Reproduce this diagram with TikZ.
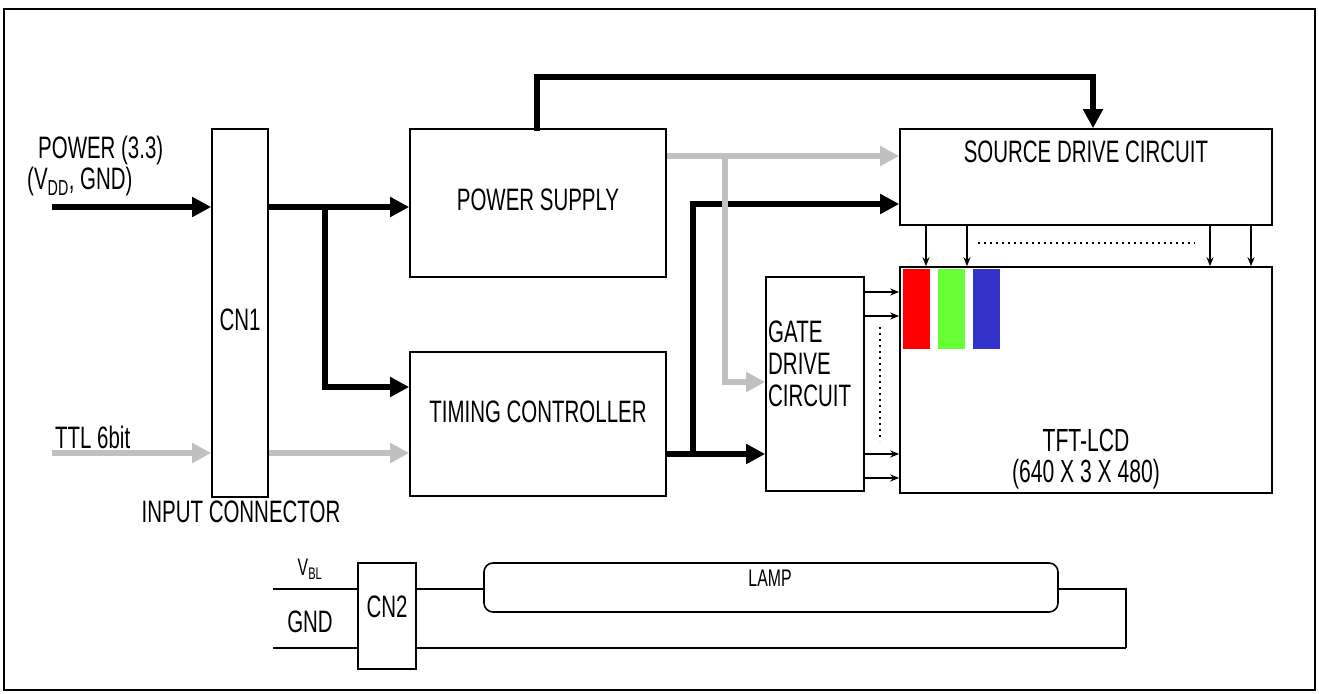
\documentclass[tikz,border=0pt]{standalone}
\usepackage{fontspec}
\setmainfont{Liberation Sans}[FakeStretch=0.66]
\usetikzlibrary{arrows.meta,calc}
\definecolor{barred}{RGB}{255,0,0}
\definecolor{bargreen}{RGB}{102,255,51}
\definecolor{barblue}{RGB}{51,51,204}
\definecolor{sig}{RGB}{192,192,192}
\begin{document}
\begin{tikzpicture}[x=1pt,y=-1pt,
  box/.style={draw,line width=1.6pt,rectangle,inner sep=0pt},
  txt/.style={inner sep=0pt,font=\fontsize{31}{33}\selectfont},
  smalltxt/.style={inner sep=0pt,font=\fontsize{24}{26}\selectfont},
  bk/.style={line width=5.5pt,draw=black},
  gy/.style={line width=5.5pt,draw=sig},
  bkarrow/.style={bk,-{Triangle[length=19pt,width=19pt]}},
  gyarrow/.style={gy,-{Triangle[length=19pt,width=19pt]}},
  thinarrow/.style={line width=2.6pt,-{Stealth[length=9pt,width=7pt,inset=3pt]}},
  dots/.style={line width=2.2pt,dash pattern=on 2pt off 4pt},
  wire/.style={line width=1.8pt}]
\useasboundingbox (0,0) rectangle (1319,693);
\draw[line width=1.6pt] (4,9) rectangle (1315,690);

% boxes
\node[box,minimum width=56pt,minimum height=368pt] (cn1) at (240,313) {};
\node[box,minimum width=256pt,minimum height=148pt] (ps) at (538,203) {};
\node[box,minimum width=256pt,minimum height=144pt] (tc) at (538,424) {};
\node[box,minimum width=372pt,minimum height=96pt] (src) at (1086,177) {};
\node[box,minimum width=98pt,minimum height=214pt] (gate) at (815,384) {};
\node[box,minimum width=372pt,minimum height=226pt] (tft) at (1086,380) {};
\node[box,minimum width=58pt,minimum height=106pt] (cn2) at (387,616) {};
\node[box,rounded corners=9pt,minimum width=574pt,minimum height=49pt] (lamp) at (771,587.5) {};

% colour bars
\fill[barred] (903,269) rectangle (930,349);
\fill[bargreen] (938,269) rectangle (965,349);
\fill[barblue] (973,269) rectangle (1000,349);

% labels
\node[txt] (cn1t) at (240,320) {CN1};
\node[txt] (pst) at (538,200) {POWER SUPPLY};
\node[txt] (tct) at (538,412) {TIMING CONTROLLER};
\node[txt] (srct) at (1086,152) {SOURCE DRIVE CIRCUIT};
\node[txt,anchor=west,align=left,font=\fontsize{31}{32}\selectfont] (gatet) at (768,364) {GATE\\DRIVE\\CIRCUIT};
\node[txt,align=center,font=\fontsize{32}{31}\selectfont] (tftt) at (1086,459) {TFT-LCD\\(640 X 3 X 480)};
\node[txt,anchor=west] (pwr) at (38,150) {POWER (3.3)};
\node[txt,anchor=west] (vdd) at (27,181) {(V\textsubscript{DD}, GND)};
\node[txt,anchor=west] (ttl) at (55,437) {TTL 6bit};
\node[txt] (inc) at (241,512) {INPUT CONNECTOR};
\node[smalltxt] (vbl) at (310,569) {V\textsubscript{BL}};
\node[txt] (gnd) at (310,622) {GND};
\node[txt] (cn2t) at (387,607) {CN2};
\node[smalltxt] (lampt) at (770,578) {LAMP};

% coordinates
\coordinate (pin) at (52,207);
\coordinate (tin) at (52,453);
\coordinate (b1) at (325,207);
\coordinate (top) at (537,77);
\coordinate (srcin) at (1093,77);
\coordinate (g1) at (725,156);
\coordinate (b2) at (693,454);
\coordinate (vblin) at (273,589);
\coordinate (gndin) at (273,648);
\coordinate (lend) at (1126,589);

% black power lines
\draw[bkarrow] (pin) -- (pin -| cn1.west);
\draw[bkarrow] (pin -| cn1.east) -- (pin -| ps.west);
\draw[bkarrow] (b1) -- (b1 |- 0,387) -- (tc.west |- 0,387);
\draw[bk,line cap=rect] (top |- ps.north) -- (top) -- (srcin);
\draw[bkarrow] (srcin) -- (srcin |- src.north);
\draw[bkarrow] (tc.east |- b2) -- (gate.west |- b2);
\draw[bkarrow,line join=miter] (b2) -- (b2 |- 0,204) -- (src.west |- 0,204);

% grey signal lines
\draw[gyarrow] (tin) -- (tin -| cn1.west);
\draw[gyarrow] (tin -| cn1.east) -- (tin -| tc.west);
\draw[gyarrow] (ps.east |- g1) -- (src.west |- g1);
\draw[gyarrow] (g1) -- (g1 |- 0,382) -- (gate.west |- 0,382);

% source -> tft
\foreach \x in {926,967,1210,1251}
  \draw[thinarrow] (\x,0 |- src.south) -- (\x,0 |- tft.north);
\draw[dots] (978,243) -- (1195,243);
% gate -> tft
\foreach \y in {292,316,454,478}
  \draw[thinarrow] (gate.east |- 0,\y) -- (tft.west |- 0,\y);
\draw[dots] (880,327) -- (880,441);

% lamp wiring
\draw[wire] (vblin) -- (vblin -| cn2.west);
\draw[wire] (cn2.east |- vblin) -- (lamp.west |- vblin);
\draw[wire] (lamp.east |- vblin) -- (lend) -- (lend |- gndin);
\draw[wire] (gndin) -- (gndin -| cn2.west);
\draw[wire] (cn2.east |- gndin) -- (lend |- gndin);
\end{tikzpicture}
\end{document}
